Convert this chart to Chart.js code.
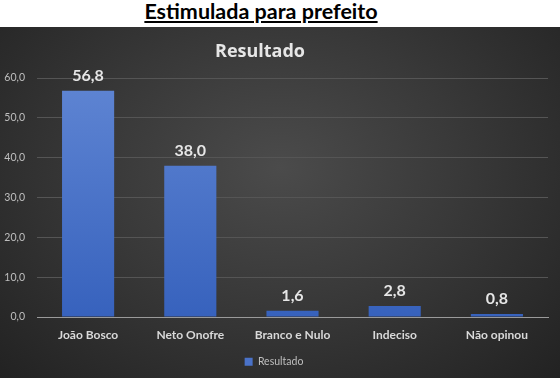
<!DOCTYPE html>
<html>
<head>
<meta charset="utf-8">
<script src="https://cdn.jsdelivr.net/npm/chart.js@4"></script>
<style>
  html, body { margin: 0; padding: 0; background: #fff; }
  #page { width: 560px; height: 378px; position: relative; overflow: hidden; }
  #titulo {
    position: absolute; left: 0; top: -1px; width: 522px; text-align: center;
    font-family: Lato, "Open Sans", sans-serif; font-weight: bold; font-size: 21.5px;
    line-height: 24px; color: #000; text-decoration: underline; text-underline-offset: 2px;
  }
  #box {
    position: absolute; left: 0; top: 27px; width: 560px; height: 351px;
    background: radial-gradient(ellipse at 50% 40%, #4b4b4b 0%, #393939 45%, #222222 100%);
  }
</style>
</head>
<body>
<div id="page">
  <div id="titulo">Estimulada para prefeito</div>
  <div id="box"><canvas id="resultado" width="560" height="351"></canvas></div>
</div>
<script>
const categorias = ["João Bosco", "Neto Onofre", "Branco e Nulo", "Indeciso", "Não opinou"];
const valores = [56.8, 38.0, 1.6, 2.8, 0.8];
const ticksY = [0, 10, 20, 30, 40, 50, 60];

const fmt = (v) => v.toFixed(1).replace(".", ",");
const fonte = "Lato, 'Open Sans', sans-serif";

// título do gráfico e rótulos em cima das barras
const rotulos = {
  id: "rotulos",
  afterDatasetsDraw(chart) {
    const ctx = chart.ctx;
    const meta = chart.getDatasetMeta(0);
    ctx.save();
    ctx.fillStyle = "#e6e6e6";
    ctx.textAlign = "center";
    ctx.textBaseline = "middle";
    ctx.font = "bold 18px 'Open Sans', sans-serif";
    ctx.fillText("Resultado", 260, 25);
    ctx.font = "bold 16px " + fonte;
    ctx.textBaseline = "bottom";
    meta.data.forEach((bar, i) => {
      ctx.fillText(fmt(valores[i]), bar.x, bar.y - 7);
    });
    ctx.restore();
  }
};

const ctx = document.getElementById("resultado");

new Chart(ctx, {
  type: "bar",
  data: {
    labels: categorias,
    datasets: [
      {
        label: "Resultado",
        data: valores,
        borderWidth: 0,
        backgroundColor: function (c) {
          const area = c.chart.chartArea;
          if (!area) return "#4472c4";
          const g = c.chart.ctx.createLinearGradient(0, area.top, 0, area.bottom);
          g.addColorStop(0, "#5f85d3");
          g.addColorStop(1, "#3762bd");
          return g;
        },
        categoryPercentage: 1.0,
        barPercentage: 0.51,
      },
    ],
  },
  options: {
    responsive: false,
    animation: false,
    layout: { padding: { left: 0, right: 12, top: 51, bottom: 1 } },
    scales: {
      x: {
        grid: { display: false },
        border: { color: "#9a9a9a", width: 1 },
        ticks: {
          color: "#d9d9d9",
          font: { family: fonte, size: 12, weight: "bold" },
          padding: 3,
        },
      },
      y: {
        min: 0,
        max: 60,
        afterBuildTicks: (axis) => { axis.ticks = ticksY.map((v) => ({ value: v })); },
        afterFit: (axis) => { axis.width = 37; },
        grid: { color: "#555555", lineWidth: 1, drawTicks: false },
        border: { display: false },
        ticks: {
          color: "#bfbfbf",
          font: { family: fonte, size: 10.5 },
          padding: 12,
          callback: (v) => fmt(v),
        },
      },
    },
    plugins: {
      title: { display: false },
      legend: {
        position: "bottom",
        labels: {
          color: "#bfbfbf",
          font: { family: fonte, size: 10.5 },
          boxWidth: 8,
          boxHeight: 8,
          padding: 11,
          generateLabels: () => [{
            text: "Resultado", fillStyle: "#4a72c8", strokeStyle: "#4a72c8", lineWidth: 0, fontColor: "#bfbfbf"
          }],
        },
      },
      tooltip: { enabled: false },
    },
  },
  plugins: [rotulos],
});
</script>
</body>
</html>
